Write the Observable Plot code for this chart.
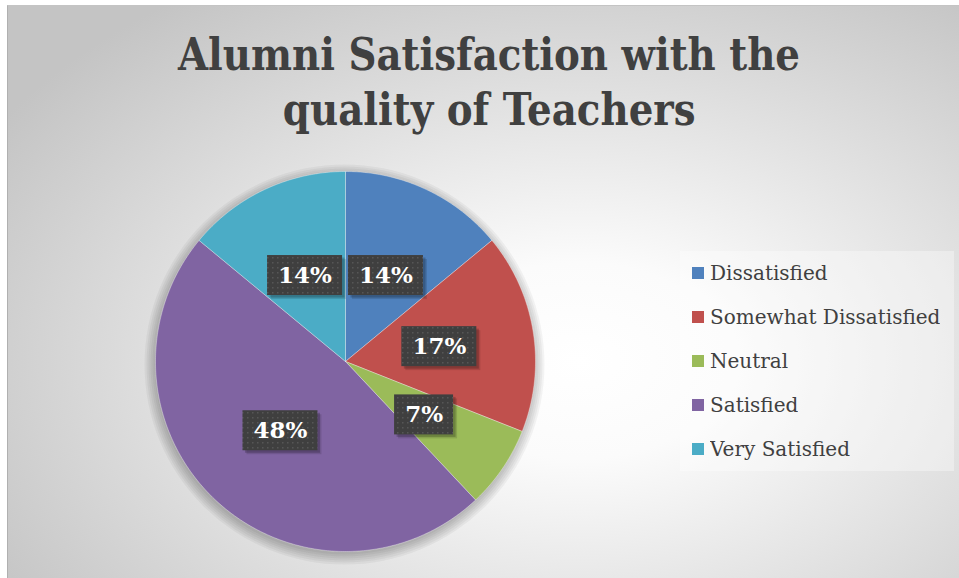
<!DOCTYPE html>
<html><head><meta charset="utf-8">
<script src="https://cdn.jsdelivr.net/npm/d3@7"></script>
<script src="https://cdn.jsdelivr.net/npm/@observablehq/plot@0.6"></script>
<style>
html,body{margin:0;padding:0;background:#fff;}
#wrap{position:relative;width:959px;height:578px;overflow:hidden;background:#fff;}
#bg{position:absolute;left:7px;top:5px;width:952px;height:573px;box-sizing:border-box;
  border-left:1px solid #b0b0b0;border-top:1px solid #c4c4c4;
  background:radial-gradient(ellipse 72% 78% at 60% 62%, #ffffff 0%, #fbfbfb 22%, #c4c4c4 100%);}
#title{position:absolute;left:0;top:27px;width:978px;text-align:center;color:#404040;
  font-family:"DejaVu Serif",serif;font-weight:bold;font-size:44px;line-height:55px;white-space:nowrap;}
#title div{display:block;}
#title span{display:inline-block;transform-origin:center;}
#chart{position:absolute;left:0;top:0;}
#legendbox{position:absolute;left:680px;top:251px;width:274px;height:220px;box-sizing:border-box;
  background:rgba(255,255,255,0.35);padding-left:12px;}
.lg-swatches{margin:0 !important;font-family:"DejaVu Serif",serif !important;font-size:20px !important;color:#404040 !important;min-height:0 !important;}
.lg-swatch{height:44px !important;padding:0 !important;margin:0 !important;display:flex !important;align-items:center !important;white-space:nowrap !important;overflow:visible !important;max-width:none !important;}
.lg-swatch svg{margin-right:6px !important;flex-shrink:0;}
</style>
</head><body>
<div id="wrap">
  <div id="bg"></div>
  <div id="title"><div><span id="t1">Alumni Satisfaction with the</span></div><div><span id="t2">quality of Teachers</span></div></div>
  <div id="chart"></div>
  <div id="legendbox"></div>
</div>
<script>
const categories = ["Dissatisfied", "Somewhat Dissatisfied", "Neutral", "Satisfied", "Very Satisfied"];
const percents = [14, 17, 7, 48, 14];
const labels = ["14%", "17%", "7%", "48%", "14%"];
const colors = ["#4F81BD", "#C0504D", "#9BBB59", "#8064A2", "#4BACC6"];

// title horizontal fit
(function(){
  const t1 = document.getElementById("t1"), t2 = document.getElementById("t2");
  const w = t1.getBoundingClientRect().width;
  const s = 622 / w;
  t1.style.transform = `scaleX(${s})`;
  t2.style.transform = `scaleX(${s})`;
})();

const data = categories.map((c, i) => ({cat: c, value: percents[i], label: labels[i]}));
const arcs = d3.pie().sort(null).value(d => d.value)(data);

// slice outlines (polar -> unit-circle coordinates)
const slices = arcs.map(a => {
  const c = a.data.cat;
  const p = [{cat: c, x: 0, y: 0}];
  const n = Math.max(2, Math.ceil((a.endAngle - a.startAngle) / 0.01));
  for (let k = 0; k <= n; k++) {
    const t = a.startAngle + (a.endAngle - a.startAngle) * k / n;
    p.push({cat: c, x: Math.sin(t), y: Math.cos(t)});
  }
  p.push({cat: c, x: 0, y: 0});
  return p;
});

const R = 190; // pixel radius
const lab = arcs.map(a => {
  const m = (a.startAngle + a.endAngle) / 2;
  const w = 16 * a.data.label.length + 27;
  const cx = 0.5 * Math.sin(m), cy = 0.5 * Math.cos(m);
  return {label: a.data.label, x: cx, y: cy,
    x1: cx - w / 2 / R, x2: cx + w / 2 / R, y1: cy - 20 / R, y2: cy + 20 / R};
});
const centre = [{x: 0, y: 0}];
const shadowRadii = [200, 198, 196, 194, 192, 190];

const plot = Plot.plot({
  width: 959, height: 578,
  margin: 0,
  style: {background: "transparent", overflow: "visible"},
  x: {domain: [-1, 1], range: [345 - R, 345 + R], axis: null},
  y: {domain: [-1, 1], range: [361 + R, 361 - R], axis: null},
  marks: [
    // soft pie shadow
    ...shadowRadii.map(r => Plot.dot(centre, {x: "x", y: "y", r, dx: -1, dy: 3, fill: "#000", fillOpacity: 0.045, stroke: "none"})),
    // slices
    ...slices.map((p, i) => Plot.line(p, {x: "x", y: "y", fill: colors[i], stroke: "#ffffff", strokeWidth: 0.7, strokeOpacity: 0.5, curve: "linear"})),
    // label box shadows
    Plot.rect(lab, {x1: "x1", x2: "x2", y1: "y1", y2: "y2", dx: 4, dy: 4, fill: "#000", fillOpacity: 0.12}),
    Plot.rect(lab, {x1: "x1", x2: "x2", y1: "y1", y2: "y2", dx: 2.5, dy: 2.5, fill: "#000", fillOpacity: 0.2}),
    // label boxes
    Plot.rect(lab, {x1: "x1", x2: "x2", y1: "y1", y2: "y2", fill: "url(#dots)"}),
    Plot.text(lab, {x: "x", y: "y", text: "label", fill: "#ffffff", fontSize: 23, fontWeight: "bold", fontFamily: "DejaVu Serif"})
  ]
});

// dotted texture for label boxes
const ns = "http://www.w3.org/2000/svg";
const defs = document.createElementNS(ns, "defs");
const pat = document.createElementNS(ns, "pattern");
pat.setAttribute("id", "dots"); pat.setAttribute("width", "5"); pat.setAttribute("height", "5");
pat.setAttribute("patternUnits", "userSpaceOnUse");
const r0 = document.createElementNS(ns, "rect");
r0.setAttribute("width", "5"); r0.setAttribute("height", "5"); r0.setAttribute("fill", "#3f3f3f");
const r1 = document.createElementNS(ns, "rect");
r1.setAttribute("x", "2"); r1.setAttribute("y", "2"); r1.setAttribute("width", "1.5"); r1.setAttribute("height", "1.5"); r1.setAttribute("fill", "#565656");
pat.appendChild(r0); pat.appendChild(r1); defs.appendChild(pat);
plot.insertBefore(defs, plot.firstChild);
document.getElementById("chart").appendChild(plot);

const legend = Plot.legend({
  color: {domain: categories, range: colors},
  legend: "swatches", columns: 1, swatchSize: 12, className: "lg",
  style: {fontFamily: "DejaVu Serif", fontSize: "20px", color: "#404040"}
});
document.getElementById("legendbox").appendChild(legend);
</script>
</body></html>
